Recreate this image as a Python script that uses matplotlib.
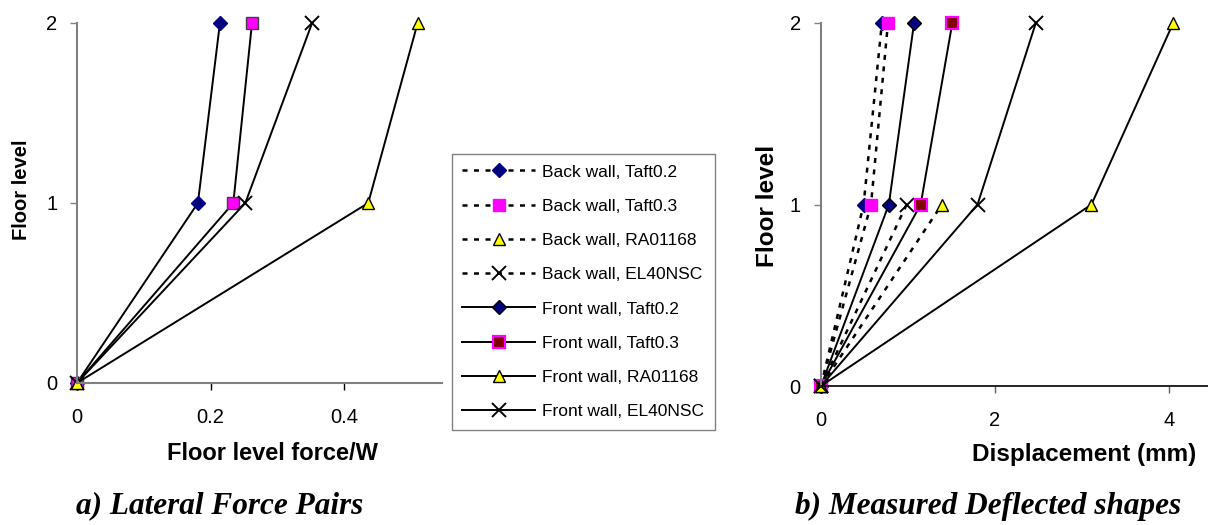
import matplotlib
matplotlib.use("Agg")
import matplotlib.pyplot as plt
from matplotlib.lines import Line2D

plt.rcParams['font.family'] = ['Liberation Sans', 'DejaVu Sans']

# ---------------- data ----------------
floors = [0, 1, 2]
floors_back_partial = [0, 1]

# Left chart: lateral force pairs (floor level force / W)
force_taft02 = [0.0, 0.181, 0.214]
force_taft03 = [0.0, 0.234, 0.262]
force_ra01168 = [0.0, 0.436, 0.510]
force_el40nsc = [0.0, 0.252, 0.352]

# Right chart: measured displacement (mm)
back_taft02 = [0.0, 0.49, 0.70]
back_taft03 = [0.0, 0.575, 0.77]
back_ra01168 = [0.0, 1.39]
back_el40nsc = [0.0, 0.985]
front_taft02 = [0.0, 0.78, 1.07]
front_taft03 = [0.0, 1.146, 1.51]
front_ra01168 = [0.0, 3.11, 4.05]
front_el40nsc = [0.0, 1.80, 2.47]

labels = ["Back wall, Taft0.2", "Back wall, Taft0.3", "Back wall, RA01168",
          "Back wall, EL40NSC", "Front wall, Taft0.2", "Front wall, Taft0.3",
          "Front wall, RA01168", "Front wall, EL40NSC"]

left_xticks = [0, 0.2, 0.4]
left_xticklabels = ["0", "0.2", "0.4"]
right_xticks = [0, 2, 4]
y_ticks = [0, 1, 2]

# ---------------- styles ----------------
dot = (0, (2.0, 2.6))
styles = [
    dict(ls=dot, marker='D', mfc='#000080', mec='#000080', ms=7),
    dict(ls=dot, marker='s', mfc='#FF00FF', mec='#FF00FF', ms=8),
    dict(ls=dot, marker='^', mfc='#FFFF00', mec='black', ms=9),
    dict(ls=dot, marker='x', mfc='black', mec='black', ms=10, mew=1.4),
    dict(ls='-', marker='D', mfc='#000080', mec='black', ms=7),
    dict(ls='-', marker='s', mfc='#800000', mec='#FF00FF', ms=8, mew=1.6),
    dict(ls='-', marker='^', mfc='#FFFF00', mec='black', ms=9),
    dict(ls='-', marker='x', mfc='black', mec='black', ms=10, mew=1.4),
]

W, H = 1208, 525
fig = plt.figure(figsize=(W / 100, H / 100), dpi=100)

def frac(x0, y0, x1, y1):
    return [x0 / W, 1 - y1 / H, (x1 - x0) / W, (y1 - y0) / H]

ax1 = fig.add_axes(frac(77, 23, 441.7, 383))
ax2 = fig.add_axes(frac(821, 23, 1208, 386))

lw = 1.4
# Left chart
left_series = [
    (force_taft02, dict(marker='D', mfc='#000080', mec='#000080', ms=7)),
    (force_taft03, dict(marker='s', mfc='#FF00FF', mec='#404040', ms=8)),
    (force_el40nsc, dict(marker='x', mfc='black', mec='black', ms=10, mew=1.4)),
    (force_ra01168, dict(marker='^', mfc='#FFFF00', mec='black', ms=9)),
]
for xs, st in left_series:
    ax1.plot(xs, floors, color='black', lw=lw, clip_on=False, **st)

# Right chart
right_data = [
    (back_taft02, floors), (back_taft03, floors),
    (back_ra01168, floors_back_partial), (back_el40nsc, floors_back_partial),
    (front_taft02, floors), (front_taft03, floors),
    (front_ra01168, floors), (front_el40nsc, floors),
]
for (xs, ys), st, lab in zip(right_data, styles, labels):
    st = dict(st)
    ls = st.pop('ls')
    lww = 1.8 if ls != '-' else lw
    ax2.plot(xs, ys, color='black', lw=lww, linestyle=ls, clip_on=False, label=lab, **st)

for ax in (ax1, ax2):
    ax.set_ylim(0, 2)
    ax.set_yticks(y_ticks)
    for s in ('top', 'right'):
        ax.spines[s].set_visible(False)
    ax.spines['left'].set_color('#808080')
    ax.spines['left'].set_linewidth(1.5)
    ax.tick_params(axis='both', direction='out', length=5, width=1, colors='black',
                   labelsize=14.5)
    ax.tick_params(axis='y', color='#808080', pad=9)
    ax.tick_params(axis='x', pad=13)

ax1.set_xlim(0, 0.546)
ax1.set_xticks(left_xticks)
ax1.set_xticklabels(left_xticklabels)
ax1.spines['bottom'].set_color('#808080')
ax1.spines['bottom'].set_linewidth(1.5)

ax2.set_xlim(0, 4.45)
ax2.set_xticks(right_xticks)
ax2.spines['bottom'].set_color('black')
ax2.spines['bottom'].set_linewidth(1.2)
ax2.tick_params(axis='x', color='#606060', pad=13)
ax2.tick_params(axis='y', pad=9.5)

# labels
fig.text(272.5 / W, 1 - 454 / H, "Floor level force/W", ha='center', va='center',
         fontsize=17, fontweight='bold')
fig.text(1083.7 / W, 1 - 454 / H, "Displacement (mm)", ha='center', va='center',
         fontsize=17.5, fontweight='bold')
fig.text(22 / W, 1 - 190 / H, "Floor level", ha='center', va='center', rotation=90,
         fontsize=14.5, fontweight='bold')
fig.text(768 / W, 1 - 206 / H, "Floor level", ha='center', va='center', rotation=90,
         fontsize=17.5, fontweight='bold')

fig.text(219.5 / W, 1 - 506 / H, "a) Lateral Force Pairs", ha='center', va='center',
         fontsize=22.5, fontweight='bold', fontstyle='italic',
         family=['Liberation Serif', 'DejaVu Serif'])
fig.text(988 / W, 1 - 506 / H, "b) Measured Deflected shapes", ha='center', va='center',
         fontsize=22.5, fontweight='bold', fontstyle='italic',
         family=['Liberation Serif', 'DejaVu Serif'])

# legend
leg_handles = []
for st, lab in zip(styles, labels):
    st = dict(st)
    ls = st.pop('ls')
    leg_handles.append(Line2D([], [], color='black', lw=1.8 if ls != '-' else lw,
                              linestyle=ls, label=lab, **st))
leg = fig.legend(handles=leg_handles, loc='upper left',
                 bbox_to_anchor=(452 / W, 1 - 154 / H), borderaxespad=0,
                 fontsize=12.5, frameon=True, fancybox=False, handlelength=4.2,
                 handletextpad=0.4, labelspacing=1.1, borderpad=0.6,
                 markerscale=1.0, numpoints=1)
leg.get_frame().set_edgecolor('#606060')
leg.get_frame().set_linewidth(1.0)

fig.savefig("out.png", dpi=100)
